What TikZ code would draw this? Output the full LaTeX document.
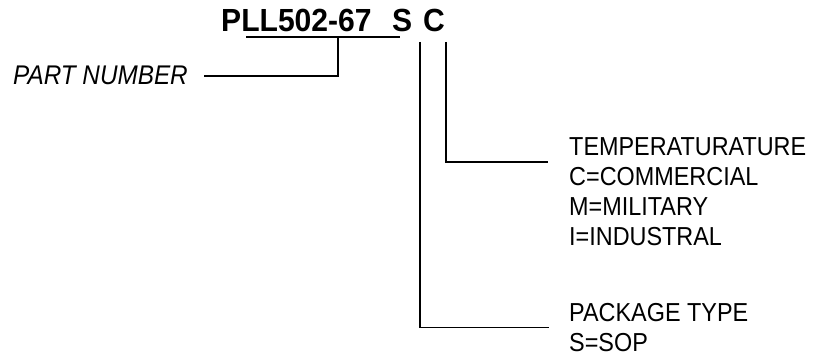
\documentclass[tikz,border=0pt]{standalone}
\usepackage{fontspec}
\setmainfont{Liberation Sans}
\newfontfamily\narrowsf[FakeStretch=0.9]{Liberation Sans}
\newfontfamily\codesf[FakeStretch=0.94]{Liberation Sans}
\usetikzlibrary{positioning}
\tikzset{
  code/.style={inner sep=0, anchor=base west, font=\codesf\fontsize{32}{36}\selectfont\bfseries},
  desc/.style={inner sep=0, anchor=north west, align=left, font=\narrowsf\fontsize{26}{30}\selectfont},
  lead/.style={draw=black, line width=1.6pt},
}

\begin{document}
\begin{tikzpicture}[x=1pt,y=-1pt]
  \useasboundingbox (0,0) rectangle (813,358);

  % ordering code
  \node[code] (partno)   at (221,32) {PLL502-67};
  \node[code] (pkgcode)  at (392,32) {S};
  \node[code] (tempcode) at (423,32) {C};

  % labels
  \node[desc, anchor=base east, font=\narrowsf\itshape\fontsize{27}{30}\selectfont] (partlbl) at (188,85) {PART NUMBER};
  \node[desc] (templbl) at (569,137) {TEMPERATURATURE\\C=COMMERCIAL\\M=MILITARY\\I=INDUSTRAL};
  \node[desc] (pkglbl)  at (569,303) {PACKAGE TYPE\\S=SOP};

  % leaders
  \coordinate (ul west) at (246,37);
  \coordinate (ul east) at (400,37);
  \coordinate (ul tap)  at (338,37);
  \coordinate (pkg top)  at (420,42);
  \coordinate (temp top) at (446,42);
  \coordinate (temp end) at (548,162);

  \draw[lead] (ul west) -- (ul east);
  \draw[lead] (ul tap) |- ([xshift=16pt]partlbl.east);
  \draw[lead] (temp top) |- (temp end);
  \draw[lead] (pkg top) |- ([xshift=-20pt]pkglbl.west);
\end{tikzpicture}
\end{document}
